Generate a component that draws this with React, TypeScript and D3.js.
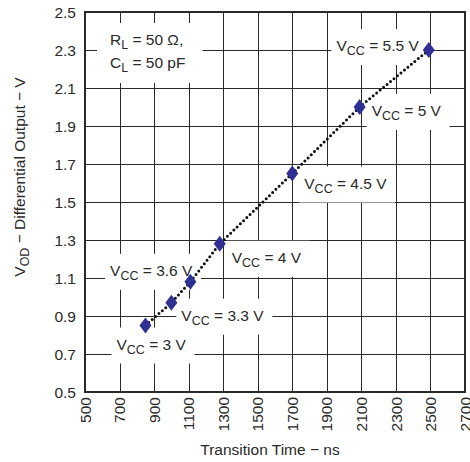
import { useEffect, useRef } from 'react'
import * as d3 from 'd3'

// V_OD vs transition time, one point per supply voltage
const vccLevels = ['3', '3.3', '3.6', '4', '4.5', '5', '5.5']
const transitionNs = [850, 1000, 1110, 1280, 1700, 2090, 2490]
const outputV = [0.85, 0.97, 1.08, 1.28, 1.65, 2.0, 2.3]

const xTicks = [500, 700, 900, 1100, 1300, 1500, 1700, 1900, 2100, 2300, 2500, 2700]
const yTicks = [0.5, 0.7, 0.9, 1.1, 1.3, 1.5, 1.7, 1.9, 2.1, 2.3, 2.5]

// where each V_CC label sits relative to its marker
const labelPlacement = [
  { dx: -29, dy: 24, anchor: 'start' },
  { dx: 10, dy: 18, anchor: 'start' },
  { dx: 2, dy: -6, anchor: 'end' },
  { dx: 12, dy: 19, anchor: 'start' },
  { dx: 12, dy: 15, anchor: 'start' },
  { dx: 12, dy: 9, anchor: 'start' },
  { dx: -10, dy: 1, anchor: 'end' },
]

const W = 470
const H = 462

export default function App() {
  const ref = useRef<SVGSVGElement>(null)

  useEffect(() => {
    if (!ref.current) return
    const svg = d3.select(ref.current)
    svg.selectAll('*').remove()

    const ink = '#2a2a2a'
    const fs = 15.5
    const sub = 12.5
    const x = d3.scaleLinear().domain([500, 2700]).range([85, 465])
    const y = d3.scaleLinear().domain([0.5, 2.5]).range([392, 12])
    const crisp = (v: number) => Math.round(v) + 0.5

    svg.append('rect').attr('width', W).attr('height', H).attr('fill', '#fff')

    // grid
    const grid = svg.append('g')
    grid.selectAll('line.v')
      .data(xTicks.slice(1, -1))
      .join('line')
      .attr('x1', d => crisp(x(d))).attr('x2', d => crisp(x(d)))
      .attr('y1', y(2.5)).attr('y2', y(0.5))
      .attr('stroke', ink).attr('stroke-width', 1)
    grid.selectAll('line.h')
      .data(yTicks.slice(1, -1))
      .join('line')
      .attr('y1', d => crisp(y(d))).attr('y2', d => crisp(y(d)))
      .attr('x1', x(500)).attr('x2', x(2700))
      .attr('stroke', ink).attr('stroke-width', 1)

    const boxLayer = svg.append('g')

    // frame
    svg.append('rect')
      .attr('x', x(500)).attr('y', y(2.5))
      .attr('width', x(2700) - x(500)).attr('height', y(0.5) - y(2.5))
      .attr('fill', 'none').attr('stroke', ink).attr('stroke-width', 2)

    const pts = transitionNs.map((t, i) => [x(t), y(outputV[i])] as [number, number])

    // dotted trend
    svg.append('path')
      .attr('d', d3.line()(pts))
      .attr('fill', 'none')
      .attr('stroke', '#111')
      .attr('stroke-width', 3)
      .attr('stroke-linecap', 'round')
      .attr('stroke-dasharray', '0 4.5')

    // diamonds
    svg.append('g').selectAll('path')
      .data(pts)
      .join('path')
      .attr('transform', d => `translate(${d[0]},${d[1]})`)
      .attr('d', 'M0,-8L6,0L0,8L-6,0Z')
      .attr('fill', '#2e3192')

    const textLayer = svg.append('g').attr('fill', ink).attr('font-size', fs)

    const addBox = (node: SVGTextElement | SVGGElement, pad: { l: number; r: number; t: number; b: number }) => {
      const b = node.getBBox()
      boxLayer.append('rect')
        .attr('x', b.x - pad.l).attr('y', b.y - pad.t)
        .attr('width', b.width + pad.l + pad.r).attr('height', b.height + pad.t + pad.b)
        .attr('fill', '#fff')
    }

    // V_CC labels
    vccLevels.forEach((v, i) => {
      const p = labelPlacement[i]
      const t = textLayer.append('text')
        .attr('x', pts[i][0] + p.dx)
        .attr('y', pts[i][1] + p.dy)
        .attr('text-anchor', p.anchor)
      t.append('tspan').text('V')
      t.append('tspan').attr('font-size', sub).attr('dy', 4).text('CC')
      t.append('tspan').attr('dy', -4).text(` = ${v} V`)
      addBox(t.node()!, { l: 5, r: 8, t: 8, b: 7 })
    })

    // load conditions
    const cond = textLayer.append('g')
    const r = cond.append('text').attr('x', 110).attr('y', 45)
    r.append('tspan').text('R')
    r.append('tspan').attr('font-size', sub).attr('dy', 4).text('L')
    r.append('tspan').attr('dy', -4).text(' = 50 Ω,')
    const c = cond.append('text').attr('x', 110).attr('y', 68)
    c.append('tspan').text('C')
    c.append('tspan').attr('font-size', sub).attr('dy', 4).text('L')
    c.append('tspan').attr('dy', -4).text(' = 50 pF')
    addBox(cond.node()!, { l: 13, r: 17, t: 8, b: 8 })

    // y tick labels
    textLayer.append('g').selectAll('text')
      .data(yTicks)
      .join('text')
      .attr('x', 76)
      .attr('y', d => y(d))
      .attr('dy', '0.4em')
      .attr('text-anchor', 'end')
      .text(d => d.toFixed(1))

    // x tick labels, rotated
    textLayer.append('g').selectAll('text')
      .data(xTicks)
      .join('text')
      .attr('transform', d => `translate(${x(d)},397) rotate(-90)`)
      .attr('dy', '0.36em')
      .attr('text-anchor', 'end')
      .text(d => String(d))

    // axis titles
    textLayer.append('text')
      .attr('x', 270).attr('y', 455)
      .attr('text-anchor', 'middle')
      .text('Transition Time − ns')

    const yt = textLayer.append('text')
      .attr('transform', 'translate(25,177) rotate(-90)')
      .attr('text-anchor', 'middle')
    yt.append('tspan').text('V')
    yt.append('tspan').attr('font-size', sub).attr('dy', 4).text('OD')
    yt.append('tspan').attr('dy', -4).text(' − Differential Output − V')
  }, [])

  return (
    <svg
      ref={ref}
      width={W}
      height={H}
      fontFamily='"Liberation Sans", Arial, Helvetica, sans-serif'
      style={{ position: 'absolute', left: 0, top: 0, display: 'block' }}
    />
  )
}
